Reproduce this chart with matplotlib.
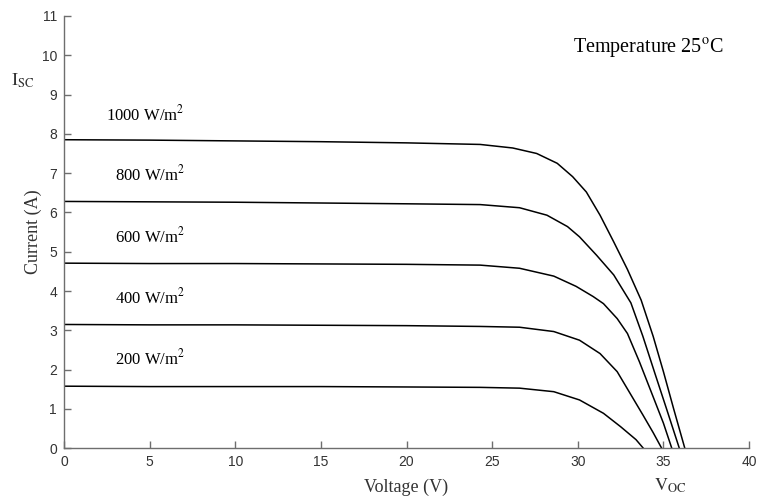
import numpy as np
import matplotlib
matplotlib.use('Agg')
import matplotlib.pyplot as plt

plt.rcParams['mathtext.fontset'] = 'stix'

# I-V curves, one pair of arrays per irradiance
v_1000 = [0, 5, 10, 15, 20, 24.3, 26.2, 27.6, 28.8, 29.7, 30.5, 31.3, 32.1, 32.9, 33.7, 34.4, 35.0, 35.6, 36.25]
i_1000 = [7.85, 7.84, 7.82, 7.80, 7.77, 7.73, 7.64, 7.50, 7.25, 6.91, 6.52, 5.93, 5.25, 4.55, 3.77, 2.85, 1.95, 1.00, 0]

v_800 = [0, 5, 10, 15, 20, 24.3, 26.6, 28.2, 29.4, 30.1, 31.1, 32.1, 33.1, 33.8, 34.5, 35.2, 35.93]
i_800 = [6.28, 6.27, 6.26, 6.24, 6.22, 6.20, 6.12, 5.93, 5.64, 5.38, 4.91, 4.41, 3.70, 2.85, 1.91, 0.98, 0]

v_600 = [0, 5, 10, 15, 20, 24.3, 26.6, 28.6, 29.9, 30.9, 31.5, 32.3, 32.9, 33.6, 34.4, 35.0, 35.49]
i_600 = [4.71, 4.70, 4.70, 4.69, 4.68, 4.66, 4.58, 4.38, 4.12, 3.86, 3.68, 3.30, 2.92, 2.20, 1.31, 0.64, 0]

v_400 = [0, 5, 10, 15, 20, 24.3, 26.6, 28.6, 30.1, 31.3, 32.3, 33.05, 33.8, 34.4, 34.9]
i_400 = [3.15, 3.14, 3.14, 3.13, 3.12, 3.10, 3.08, 2.97, 2.75, 2.41, 1.95, 1.40, 0.85, 0.40, 0]

v_200 = [0, 5, 10, 15, 20, 24.3, 26.6, 28.6, 30.1, 31.5, 32.5, 33.4, 33.83]
i_200 = [1.58, 1.57, 1.57, 1.57, 1.56, 1.55, 1.53, 1.44, 1.23, 0.89, 0.55, 0.22, 0]

curves = [(v_1000, i_1000), (v_800, i_800), (v_600, i_600), (v_400, i_400), (v_200, i_200)]
labels = ['1000 W/m$^2$', '800 W/m$^2$', '600 W/m$^2$', '400 W/m$^2$', '200 W/m$^2$']
label_y = [8.5, 6.97, 5.38, 3.85, 2.28]

fig = plt.figure(figsize=(7.57, 4.97), dpi=100)
ax = fig.add_axes([0.0845, 0.098, 0.905, 0.870])

for v, i in curves:
    ax.plot(v, i, color='black', lw=1.1, solid_joinstyle='round')

serif = 'Liberation Serif'
for lab, y in zip(labels, label_y):
    ax.text(7.05, y, lab, ha='right', va='center', fontsize=12, family=serif)

ax.text(38.5, 10.18, r'Temperature 25$^{\rm o}$C', ha='right', va='center', fontsize=14.5, family=serif)

ax.set_xlim(0, 40)
ax.set_ylim(0, 11)
ax.set_xticks(np.arange(0, 41, 5))
ax.set_yticks(np.arange(0, 12, 1))

for s in ['top', 'right']:
    ax.spines[s].set_visible(False)
for s in ['left', 'bottom']:
    ax.spines[s].set_color('#6e6e6e')
    ax.spines[s].set_linewidth(1.0)

ax.tick_params(direction='in', length=5, width=1.0, color='#6e6e6e',
               labelsize=10, labelcolor='#333333', pad=5)
for t in ax.get_xticklabels() + ax.get_yticklabels():
    t.set_family('Liberation Sans')

ax.set_xlabel('Voltage (V)', fontsize=13, family=serif, color='#333333', labelpad=7)
ax.set_ylabel('Current (A)', fontsize=13, family=serif, color='#333333', labelpad=0)

fig.text(0.030, 0.837, r'$\mathrm{I}_{\mathrm{SC}}$', ha='center', va='center', fontsize=13, color='#333333')
fig.text(0.886, 0.022, r'$\mathrm{V}_{\mathrm{OC}}$', ha='center', va='center', fontsize=13, color='#333333')

fig.savefig('out.png', dpi=100)
